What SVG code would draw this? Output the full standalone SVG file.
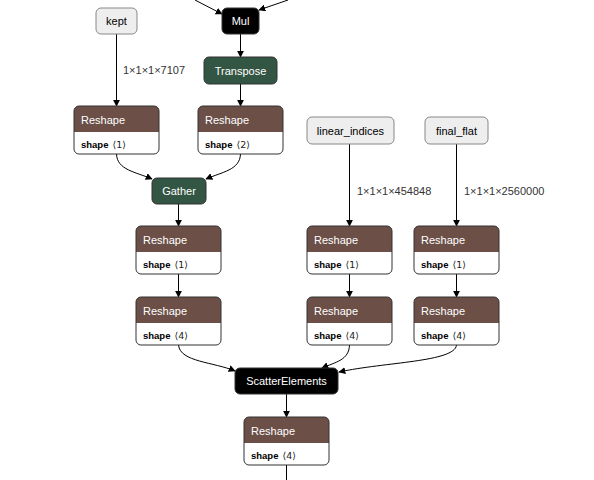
<svg xmlns="http://www.w3.org/2000/svg" width="594" height="480" viewBox="0 0 594 480">
<style>
text{font-family:"Liberation Sans",Arial,sans-serif}
.t{font-size:11px;fill:#fff}
.ti{font-size:11px;fill:#000}
.a{font-size:9.5px;fill:#000}
.b{font-weight:bold}
.v{font-family:"DejaVu Sans",sans-serif;font-size:9.5px;fill:#222}
.lbl{font-size:11px;fill:#333}
.e{fill:none;stroke:#000;stroke-width:1;marker-end:url(#arr)}
.shape{fill:rgb(108,79,71)}
.tr{fill:rgb(51,85,68);stroke:#333}
.blk{fill:#000;stroke:#333}
.inp{fill:#eee;stroke:#888}
.body{fill:#fff}
.ol{fill:none;stroke:#333}
</style>
<defs>
<marker id="arr" viewBox="0 0 10 10" refX="9" refY="5" markerWidth="7" markerHeight="7" markerUnits="userSpaceOnUse" orient="auto">
<path d="M0,0 L10,5 L0,10 z" fill="#000"/>
</marker>
</defs>
<rect width="594" height="480" fill="#fff"/>
<g id="edges">
<path class="e" d="M195,0 L222,14"/>
<path class="e" d="M288,0 L259,10"/>
<path class="e" d="M116.5,34 L116.5,106"/>
<path class="e" d="M240.5,34 L240.5,57"/>
<path class="e" d="M240.5,84 L240.5,106"/>
<path class="e" d="M116.5,154 C117,170 136,172 152,179"/>
<path class="e" d="M240.5,154 C240,170 222,172 206,179"/>
<path class="e" d="M178.5,204 L178.5,226"/>
<path class="e" d="M178.5,274 L178.5,297"/>
<path class="e" d="M349.5,144 L349.5,226"/>
<path class="e" d="M456.5,144 L456.5,226"/>
<path class="e" d="M349.5,274 L349.5,297"/>
<path class="e" d="M456.5,274 L456.5,297"/>
<path class="e" d="M178.5,345 C180,362 214,362 235,371"/>
<path class="e" d="M349.5,345 C349,360 336,362 322,368"/>
<path class="e" d="M456.5,345 C455,362 385,362 339,372"/>
<path class="e" d="M286.5,394 L286.5,417"/>
<path d="M286.5,465 L286.5,480" stroke="#000" fill="none"/>
<text class="lbl" x="123" y="74">1×1×1×7107</text>
<text class="lbl" x="357" y="195">1×1×1×454848</text>
<text class="lbl" x="464" y="195">1×1×1×2560000</text>
</g>
<g id="mul"><rect class="blk" x="222" y="8" width="37" height="26" rx="5"/><text class="t" x="240.5" y="25" text-anchor="middle">Mul</text></g>
<g id="kept"><rect class="inp" x="96" y="8" width="41" height="26" rx="5"/><text class="ti" x="116.5" y="25" text-anchor="middle">kept</text></g>
<g id="transpose"><rect class="tr" x="204" y="57" width="73" height="27" rx="5"/><text class="t" x="240.5" y="74.5" text-anchor="middle">Transpose</text></g>
<g id="gather"><rect class="tr" x="152" y="178" width="54" height="26" rx="5"/><text class="t" x="179" y="195" text-anchor="middle">Gather</text></g>
<g id="linear_indices"><rect class="inp" x="307" y="117" width="87" height="27" rx="5"/><text class="ti" x="350.5" y="134.5" text-anchor="middle">linear_indices</text></g>
<g id="final_flat"><rect class="inp" x="425" y="117" width="63" height="27" rx="5"/><text class="ti" x="456.5" y="134.5" text-anchor="middle">final_flat</text></g>
<g id="scatter"><rect class="blk" x="235" y="368" width="103" height="26" rx="5"/><text class="t" x="286.5" y="385" text-anchor="middle">ScatterElements</text></g>
<g id="reshape1" transform="translate(74,106)">
<path class="shape" d="M0,26 V5 A5,5 0 0 1 5,0 H80 A5,5 0 0 1 85,5 V26 Z"/>
<path class="body" d="M0,26 H85 V43 A5,5 0 0 1 80,48 H5 A5,5 0 0 1 0,43 Z"/>
<rect class="ol" x="0" y="0" width="85" height="48" rx="5"/>
<text class="t" x="7" y="17.5">Reshape</text>
<text class="a" x="7" y="41.5"><tspan class="b">shape</tspan><tspan class="v" dx="4">⟨1⟩</tspan></text>
</g>
<g id="reshape2" transform="translate(198,106)">
<path class="shape" d="M0,26 V5 A5,5 0 0 1 5,0 H80 A5,5 0 0 1 85,5 V26 Z"/>
<path class="body" d="M0,26 H85 V43 A5,5 0 0 1 80,48 H5 A5,5 0 0 1 0,43 Z"/>
<rect class="ol" x="0" y="0" width="85" height="48" rx="5"/>
<text class="t" x="7" y="17.5">Reshape</text>
<text class="a" x="7" y="41.5"><tspan class="b">shape</tspan><tspan class="v" dx="4">⟨2⟩</tspan></text>
</g>
<g id="reshape3" transform="translate(136,226)">
<path class="shape" d="M0,26 V5 A5,5 0 0 1 5,0 H80 A5,5 0 0 1 85,5 V26 Z"/>
<path class="body" d="M0,26 H85 V43 A5,5 0 0 1 80,48 H5 A5,5 0 0 1 0,43 Z"/>
<rect class="ol" x="0" y="0" width="85" height="48" rx="5"/>
<text class="t" x="7" y="17.5">Reshape</text>
<text class="a" x="7" y="41.5"><tspan class="b">shape</tspan><tspan class="v" dx="4">⟨1⟩</tspan></text>
</g>
<g id="reshape4" transform="translate(136,297)">
<path class="shape" d="M0,26 V5 A5,5 0 0 1 5,0 H80 A5,5 0 0 1 85,5 V26 Z"/>
<path class="body" d="M0,26 H85 V43 A5,5 0 0 1 80,48 H5 A5,5 0 0 1 0,43 Z"/>
<rect class="ol" x="0" y="0" width="85" height="48" rx="5"/>
<text class="t" x="7" y="17.5">Reshape</text>
<text class="a" x="7" y="41.5"><tspan class="b">shape</tspan><tspan class="v" dx="4">⟨4⟩</tspan></text>
</g>
<g id="reshape5" transform="translate(307,226)">
<path class="shape" d="M0,26 V5 A5,5 0 0 1 5,0 H80 A5,5 0 0 1 85,5 V26 Z"/>
<path class="body" d="M0,26 H85 V43 A5,5 0 0 1 80,48 H5 A5,5 0 0 1 0,43 Z"/>
<rect class="ol" x="0" y="0" width="85" height="48" rx="5"/>
<text class="t" x="7" y="17.5">Reshape</text>
<text class="a" x="7" y="41.5"><tspan class="b">shape</tspan><tspan class="v" dx="4">⟨1⟩</tspan></text>
</g>
<g id="reshape6" transform="translate(414,226)">
<path class="shape" d="M0,26 V5 A5,5 0 0 1 5,0 H80 A5,5 0 0 1 85,5 V26 Z"/>
<path class="body" d="M0,26 H85 V43 A5,5 0 0 1 80,48 H5 A5,5 0 0 1 0,43 Z"/>
<rect class="ol" x="0" y="0" width="85" height="48" rx="5"/>
<text class="t" x="7" y="17.5">Reshape</text>
<text class="a" x="7" y="41.5"><tspan class="b">shape</tspan><tspan class="v" dx="4">⟨1⟩</tspan></text>
</g>
<g id="reshape7" transform="translate(307,297)">
<path class="shape" d="M0,26 V5 A5,5 0 0 1 5,0 H80 A5,5 0 0 1 85,5 V26 Z"/>
<path class="body" d="M0,26 H85 V43 A5,5 0 0 1 80,48 H5 A5,5 0 0 1 0,43 Z"/>
<rect class="ol" x="0" y="0" width="85" height="48" rx="5"/>
<text class="t" x="7" y="17.5">Reshape</text>
<text class="a" x="7" y="41.5"><tspan class="b">shape</tspan><tspan class="v" dx="4">⟨4⟩</tspan></text>
</g>
<g id="reshape8" transform="translate(414,297)">
<path class="shape" d="M0,26 V5 A5,5 0 0 1 5,0 H80 A5,5 0 0 1 85,5 V26 Z"/>
<path class="body" d="M0,26 H85 V43 A5,5 0 0 1 80,48 H5 A5,5 0 0 1 0,43 Z"/>
<rect class="ol" x="0" y="0" width="85" height="48" rx="5"/>
<text class="t" x="7" y="17.5">Reshape</text>
<text class="a" x="7" y="41.5"><tspan class="b">shape</tspan><tspan class="v" dx="4">⟨4⟩</tspan></text>
</g>
<g id="reshape9" transform="translate(244,417)">
<path class="shape" d="M0,26 V5 A5,5 0 0 1 5,0 H80 A5,5 0 0 1 85,5 V26 Z"/>
<path class="body" d="M0,26 H85 V43 A5,5 0 0 1 80,48 H5 A5,5 0 0 1 0,43 Z"/>
<rect class="ol" x="0" y="0" width="85" height="48" rx="5"/>
<text class="t" x="7" y="17.5">Reshape</text>
<text class="a" x="7" y="41.5"><tspan class="b">shape</tspan><tspan class="v" dx="4">⟨4⟩</tspan></text>
</g>
</svg>
